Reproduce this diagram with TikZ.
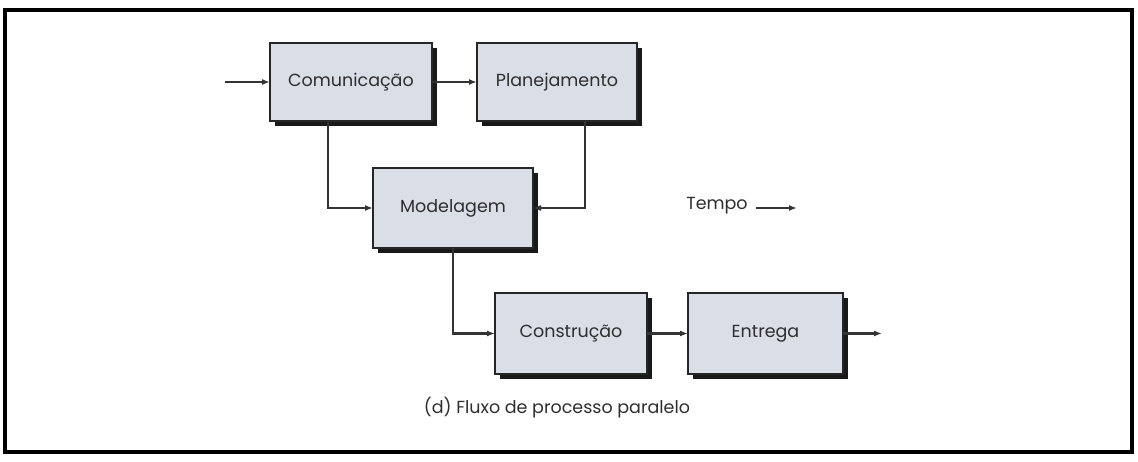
\documentclass[tikz,border=0pt]{standalone}
\usepackage{fontspec}
\setmainfont{Poppins}
\usetikzlibrary{arrows.meta,shadows,calc}
\definecolor{boxfill}{HTML}{D9DEE7}
\definecolor{txt}{HTML}{2E2E2E}
\tikzset{
  stagebox/.style={draw=black!85, line width=2.2pt, fill=boxfill, text=txt,
    font=\fontsize{17.5}{21}\selectfont, inner sep=0pt, outer sep=0pt,
    drop shadow={shadow xshift=5pt, shadow yshift=-5pt, fill=black!90, opacity=1}},
  conn/.style={draw=black!80, line width=2.2pt, -{Latex[length=8pt,width=6pt]}},
  lbl/.style={text=txt, font=\fontsize{17.5}{21}\selectfont, inner sep=1pt}
}
\begin{document}
\begin{tikzpicture}[x=1pt,y=-1pt]
\useasboundingbox (0,0) rectangle (1138,462);
\draw[line width=4pt] (5,10) rectangle (1132,452);
\node[stagebox, minimum width=162pt, minimum height=78pt] (com) at (351,82) {Comunicação};
\node[stagebox, minimum width=160pt, minimum height=78pt] (pla) at (557,82) {Planejamento};
\node[stagebox, minimum width=160pt, minimum height=80pt] (mod) at (453,208) {Modelagem};
\node[stagebox, minimum width=152pt, minimum height=81pt] (con) at (571,333.5) {Construção};
\node[stagebox, minimum width=155pt, minimum height=81pt] (ent) at (765.5,333.5) {Entrega};
\coordinate (in) at (225,82);
\coordinate (out) at (882,333.5);
\draw[conn] (in) -- (com.west);
\draw[conn] (com.east) -- (pla.west);
\draw[conn] ($(com.south west)!0.36!(com.south east)$) |- (mod.west);
\draw[conn] ($(pla.south west)!0.675!(pla.south east)$) |- (mod.east);
\draw[conn] (mod.south) |- (con.west);
\draw[conn] (con.east) -- (ent.west);
\draw[conn] (ent.east) -- (out);
\node[lbl] (tempo) at (717,206) {Tempo};
\coordinate (tend) at (797,208);
\draw[conn] (tempo.east |- tend) ++(7,0) coordinate (tstart) (tstart) -- (tend);
\node[lbl] (cap) at (557,408) {(d) Fluxo de processo paralelo};
\end{tikzpicture}
\end{document}
